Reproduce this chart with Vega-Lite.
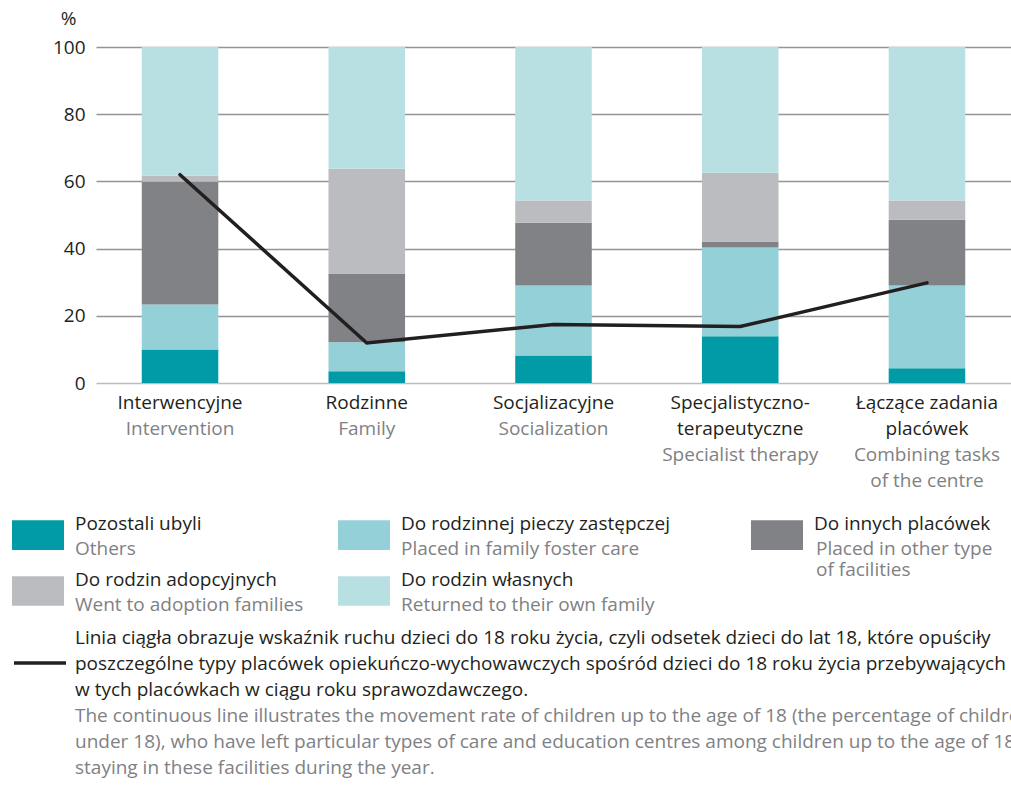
{
  "$schema": "https://vega.github.io/schema/vega-lite/v6.json",
  "autosize": {"type": "none"},
  "padding": {"left": 96, "top": 47, "right": 0, "bottom": 402},
  "width": 915,
  "height": 336,
  "background": "white",
  "config": {
    "font": "Open Sans",
    "view": {"stroke": null},
    "axis": {"labelFont": "Open Sans", "titleFont": "Open Sans"},
    "legend": {"labelFont": "Open Sans"}
  },
  "title": {
    "text": ["Linia ciągła obrazuje wskaźnik ruchu dzieci do 18 roku życia, czyli odsetek dzieci do lat 18, które opuściły", "poszczególne typy placówek opiekuńczo-wychowawczych spośród dzieci do 18 roku życia przebywających", "w tych placówkach w ciągu roku sprawozdawczego."],
    "subtitle": ["The continuous line illustrates the movement rate of children up to the age of 18  (the percentage of children", "under 18), who have left particular types of care and education centres among children up to the age of 18", "staying in these facilities during the year."],
    "orient": "bottom",
    "anchor": "start",
    "frame": "bounds",
    "offset": 10,
    "dx": 63,
    "dy": -51,
    "font": "Open Sans",
    "fontSize": 19,
    "fontWeight": "normal",
    "lineHeight": 26,
    "color": "#231f20",
    "subtitleFont": "Open Sans",
    "subtitleFontSize": 19,
    "subtitleLineHeight": 26,
    "subtitleColor": "#808184",
    "subtitlePadding": 7
  },
  "datasets": {
    "bars": [
      {"typ": "Interwencyjne", "pl": "Pozostali ubyli", "en": "Others", "k": 1, "v": 10.0},
      {"typ": "Interwencyjne", "pl": "Do rodzinnej pieczy zastępczej", "en": "Placed in family foster care", "k": 2, "v": 13.4},
      {"typ": "Interwencyjne", "pl": "Do innych placówek", "en": "Placed in other type of facilities", "k": 3, "v": 36.5},
      {"typ": "Interwencyjne", "pl": "Do rodzin adopcyjnych", "en": "Went to adoption families", "k": 4, "v": 1.8},
      {"typ": "Interwencyjne", "pl": "Do rodzin własnych", "en": "Returned to their own family", "k": 5, "v": 38.3},
      {"typ": "Rodzinne", "pl": "Pozostali ubyli", "en": "Others", "k": 1, "v": 3.5},
      {"typ": "Rodzinne", "pl": "Do rodzinnej pieczy zastępczej", "en": "Placed in family foster care", "k": 2, "v": 8.6},
      {"typ": "Rodzinne", "pl": "Do innych placówek", "en": "Placed in other type of facilities", "k": 3, "v": 20.5},
      {"typ": "Rodzinne", "pl": "Do rodzin adopcyjnych", "en": "Went to adoption families", "k": 4, "v": 31.2},
      {"typ": "Rodzinne", "pl": "Do rodzin własnych", "en": "Returned to their own family", "k": 5, "v": 36.2},
      {"typ": "Socjalizacyjne", "pl": "Pozostali ubyli", "en": "Others", "k": 1, "v": 8.2},
      {"typ": "Socjalizacyjne", "pl": "Do rodzinnej pieczy zastępczej", "en": "Placed in family foster care", "k": 2, "v": 20.8},
      {"typ": "Socjalizacyjne", "pl": "Do innych placówek", "en": "Placed in other type of facilities", "k": 3, "v": 18.7},
      {"typ": "Socjalizacyjne", "pl": "Do rodzin adopcyjnych", "en": "Went to adoption families", "k": 4, "v": 6.6},
      {"typ": "Socjalizacyjne", "pl": "Do rodzin własnych", "en": "Returned to their own family", "k": 5, "v": 45.7},
      {"typ": "Specjalistyczno-terapeutyczne", "pl": "Pozostali ubyli", "en": "Others", "k": 1, "v": 13.9},
      {"typ": "Specjalistyczno-terapeutyczne", "pl": "Do rodzinnej pieczy zastępczej", "en": "Placed in family foster care", "k": 2, "v": 26.4},
      {"typ": "Specjalistyczno-terapeutyczne", "pl": "Do innych placówek", "en": "Placed in other type of facilities", "k": 3, "v": 1.8},
      {"typ": "Specjalistyczno-terapeutyczne", "pl": "Do rodzin adopcyjnych", "en": "Went to adoption families", "k": 4, "v": 20.5},
      {"typ": "Specjalistyczno-terapeutyczne", "pl": "Do rodzin własnych", "en": "Returned to their own family", "k": 5, "v": 37.4},
      {"typ": "Łączące zadania placówek", "pl": "Pozostali ubyli", "en": "Others", "k": 1, "v": 4.4},
      {"typ": "Łączące zadania placówek", "pl": "Do rodzinnej pieczy zastępczej", "en": "Placed in family foster care", "k": 2, "v": 24.6},
      {"typ": "Łączące zadania placówek", "pl": "Do innych placówek", "en": "Placed in other type of facilities", "k": 3, "v": 19.6},
      {"typ": "Łączące zadania placówek", "pl": "Do rodzin adopcyjnych", "en": "Went to adoption families", "k": 4, "v": 5.7},
      {"typ": "Łączące zadania placówek", "pl": "Do rodzin własnych", "en": "Returned to their own family", "k": 5, "v": 45.7}
    ],
    "line": [
      {"typ": "Interwencyjne", "rate": 62.0},
      {"typ": "Rodzinne", "rate": 11.9},
      {"typ": "Socjalizacyjne", "rate": 17.4},
      {"typ": "Specjalistyczno-terapeutyczne", "rate": 16.8},
      {"typ": "Łączące zadania placówek", "rate": 29.8}
    ]
  },
  "layer": [
    {
      "data": {"name": "bars"},
      "mark": {"type": "bar", "strokeWidth": 0},
      "encoding": {
        "x": {
          "field": "typ", "type": "nominal", "sort": null,
          "scale": {"paddingInner": 0.59, "paddingOuter": 0.245},
          "axis": {
            "orient": "bottom", "title": null, "domain": false, "ticks": false, "grid": false,
            "labelAngle": 0, "labelFontSize": 19, "labelColor": "#231f20", "labelLineHeight": 26,
            "labelPadding": 10, "labelBaseline": "top", "labelLimit": 400,
            "labelExpr": "datum.value == 'Specjalistyczno-terapeutyczne' ? ['Specjalistyczno-', 'terapeutyczne'] : datum.value == 'Łączące zadania placówek' ? ['Łączące zadania', 'placówek'] : datum.value"
          }
        },
        "y": {
          "field": "v", "type": "quantitative", "stack": "zero",
          "scale": {"domain": [0, 100]},
          "axis": {
            "title": "%", "titleAngle": 0, "titleAlign": "center", "titleBaseline": "middle",
            "titleX": -28, "titleY": -29, "titleFontSize": 19, "titleFontWeight": "normal", "titleColor": "#231f20",
            "domain": false, "ticks": false, "values": [0, 20, 40, 60, 80, 100],
            "labelFontSize": 19, "labelColor": "#231f20", "labelPadding": 11,
            "gridColor": {"condition": {"test": "datum.value === 0", "value": "#bcbcbe"}, "value": "#949497"},
            "gridWidth": 1.6
          }
        },
        "order": {"field": "k", "type": "quantitative"},
        "fill": {
          "field": "pl", "type": "nominal",
          "scale": {
            "domain": ["Pozostali ubyli", "Do rodzinnej pieczy zastępczej", "Do innych placówek", "Do rodzin adopcyjnych", "Do rodzin własnych"],
            "range": ["#009ba6", "#94d0d7", "#818286", "#bbbcbf", "#b8e0e2"]
          },
          "legend": {
            "title": null, "orient": "none", "direction": "horizontal", "legendX": -84, "legendY": 462, "columns": 3,
            "columnPadding": 61, "rowPadding": 15, "padding": 0,
            "symbolType": "M-1,-0.57L1,-0.57L1,0.57L-1,0.57Z", "symbolSize": 2704, "symbolStrokeWidth": 0,
            "symbolOpacity": 1,
            "labelFontSize": 19, "labelColor": "#231f20", "labelOffset": 11, "labelBaseline": "line-bottom", "labelLimit": 500,
            "labelExpr": "datum.label == 'Do rodzinnej pieczy zastępczej' ? datum.label + '\u00a0\u00a0\u00a0\u00a0\u200b' : datum.label"
          }
        },
        "strokeDash": {
          "field": "en", "type": "nominal",
          "scale": {
            "domain": ["Others", "Placed in family foster care", "Placed in other type of facilities", "Went to adoption families", "Returned to their own family"],
            "range": [[1, 0], [2, 0], [3, 0], [4, 0], [5, 0]]
          },
          "legend": {
            "title": null, "orient": "none", "direction": "horizontal", "legendX": -84, "legendY": 477, "columns": 3,
            "columnPadding": 34, "rowPadding": 0, "padding": 0,
            "symbolType": "M-1,-0.57L1,-0.57L1,0.57L-1,0.57Z", "symbolSize": 900, "symbolStrokeWidth": 0,
            "symbolOpacity": 0,
            "labelFontSize": 19, "labelColor": "#808184", "labelOffset": 33, "labelBaseline": "line-top", "labelLimit": 600,
            "labelExpr": "datum.label == 'Placed in other type of facilities' ? ['Placed in other type', 'of facilities'] : datum.label == 'Returned to their own family' ? [datum.label + '\u00a0\u00a0\u00a0\u00a0\u00a0\u00a0\u00a0\u00a0\u00a0\u00a0\u00a0\u00a0\u00a0\u200b', ''] : [datum.label, '']"
          }
        }
      }
    },
    {
      "data": {"name": "line"},
      "mark": {"type": "line", "strokeWidth": 3.5, "strokeCap": "round"},
      "encoding": {
        "x": {
          "field": "typ", "type": "nominal", "sort": null,
          "axis": {
            "orient": "bottom", "title": null, "domain": false, "ticks": false, "grid": false,
            "labelAngle": 0, "labelFontSize": 19, "labelColor": "#808184", "labelLineHeight": 26,
            "labelPadding": 36, "labelBaseline": "top", "labelLimit": 400,
            "labelExpr": "datum.value == 'Interwencyjne' ? 'Intervention' : datum.value == 'Rodzinne' ? 'Family' : datum.value == 'Socjalizacyjne' ? 'Socialization' : datum.value == 'Specjalistyczno-terapeutyczne' ? ['', 'Specialist therapy'] : ['', 'Combining tasks', 'of the centre']"
          }
        },
        "y": {"field": "rate", "type": "quantitative"},
        "stroke": {
          "datum": "linia",
          "scale": {"range": ["#231f20"]},
          "legend": {
            "title": null, "orient": "none", "legendX": -84, "legendY": 588, "padding": 0,
            "symbolType": "stroke", "symbolSize": 2704, "symbolStrokeWidth": 3.5,
            "labelExpr": "''"
          }
        }
      }
    }
  ],
  "resolve": {"axis": {"x": "independent"}}
}
